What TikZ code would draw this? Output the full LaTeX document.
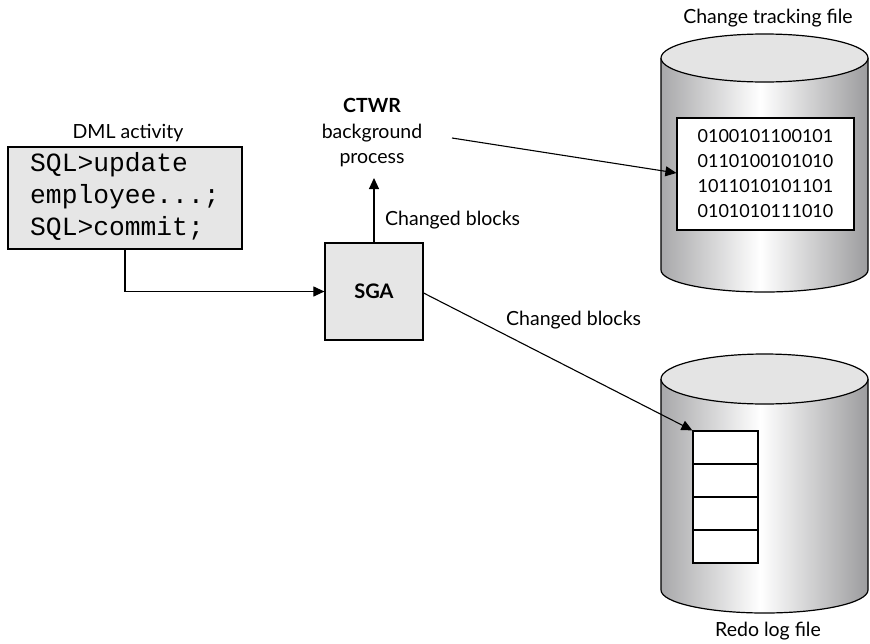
\documentclass[tikz,border=0pt]{standalone}
\usepackage{fontspec}
\setmainfont{Lato}
\setmonofont{Liberation Mono}
\usetikzlibrary{arrows.meta}

\definecolor{boxgray}{HTML}{E6E6E6}
\definecolor{lidgray}{HTML}{E4E4E4}
\definecolor{sideleft}{HTML}{A8A8AA}
\definecolor{sideright}{HTML}{9C9C9E}

% side of a disk cylinder: grey at both edges, white just left of the middle
\pgfdeclarehorizontalshading{cylside}{100bp}{%
  color(0bp)=(sideleft); color(25bp)=(sideleft); color(49bp)=(white);
  color(75bp)=(sideright); color(100bp)=(sideright)}

\tikzset{
  line/.style={line width=1.2pt, draw=black},
  arrowline/.style={line width=1.1pt, -{Triangle[length=11pt,width=10pt]}},
  graybox/.style={line, fill=boxgray, inner sep=0pt},
  label/.style={font=\fontsize{19.5}{23}\selectfont, inner sep=0pt},
  bits/.style={font=\fontsize{18}{25}\selectfont, align=center, inner sep=0pt},
  sqltext/.style={font=\ttfamily\fontsize{26.3}{32}\selectfont, align=left, inner sep=0pt, anchor=north west},
}

% disk cylinder: centre x, lid centre y, base centre y, half width, lid/base half heights
\newcommand{\diskdrum}[6]{%
  \path[shading=cylside, line width=1.2pt]
    (#1-#4,-#2) -- (#1-#4,-#3)
    arc[start angle=180, end angle=360, x radius=#4, y radius=#6]
    -- (#1+#4,-#2) -- cycle;
  \draw[line width=1.2pt]
    (#1-#4,-#2) -- (#1-#4,-#3)
    arc[start angle=180, end angle=360, x radius=#4, y radius=#6]
    -- (#1+#4,-#2);
  \draw[line width=1.2pt, fill=lidgray] (#1,-#2) ellipse[x radius=#4, y radius=#5];
}

\begin{document}
\begin{tikzpicture}[x=1pt,y=1pt]
  \useasboundingbox (0,0) rectangle (870,-643);

  % ---- DML activity ----
  \node[label] (dmltitle) at (128,-133) {DML activity};
  \node[graybox, minimum width=234pt, minimum height=102pt] (dml) at (125,-198) {};
  \node[sqltext] (sql) at (30,-152) {SQL>update\\employee...;\\SQL>commit;};

  % ---- SGA ----
  \node[graybox, minimum width=98pt, minimum height=97pt,
        font=\bfseries\fontsize{20}{22}\selectfont] (sga) at (374,-291.5) {SGA};

  % ---- CTWR process ----
  \node[label, align=center, font=\fontsize{19.5}{25.5}\selectfont] (ctwr) at (372,-133)
    {\textbf{CTWR}\\background\\process};
  \coordinate (ctwrbase) at (374,-178);
  \coordinate (ctwrout) at (452,-138);

  % ---- change tracking file ----
  \node[label] (cttitle) at (768,-18) {Change tracking file};
  \diskdrum{764.5}{58}{270}{103.5}{24}{22}
  \node[line, fill=white, minimum width=177pt, minimum height=112pt, inner sep=0pt] (ctbox) at (765.5,-174) {};
  \node[bits] (ctbits) at (ctbox.center)
    {0100101100101\\0110100101010\\1011010101101\\0101010111010};

  % ---- redo log file ----
  \node[label] (redotitle) at (768,-631) {Redo log file};
  \diskdrum{764.5}{379}{590}{103.5}{25}{23}
  \foreach \i in {0,1,2,3} {
    \node[line, fill=white, minimum width=65pt, minimum height=33pt, inner sep=0pt]
      (cell\i) at (725.5,{-447.5-33*\i}) {};
  }

  % ---- connectors ----
  \draw[arrowline] (dml.south) |- (sga.west);
  \draw[arrowline] (sga.north) -- (ctwrbase);
  \node[label, anchor=west] (cb1) at (385,-220) {Changed blocks};
  \draw[arrowline] (ctwrout) -- (ctbox.west |- 0,-173);
  \draw[arrowline] (sga.east |- 0,-293) -- (cell0.north west);
  \node[label, anchor=west] (cb2) at (506,-320) {Changed blocks};
\end{tikzpicture}
\end{document}
